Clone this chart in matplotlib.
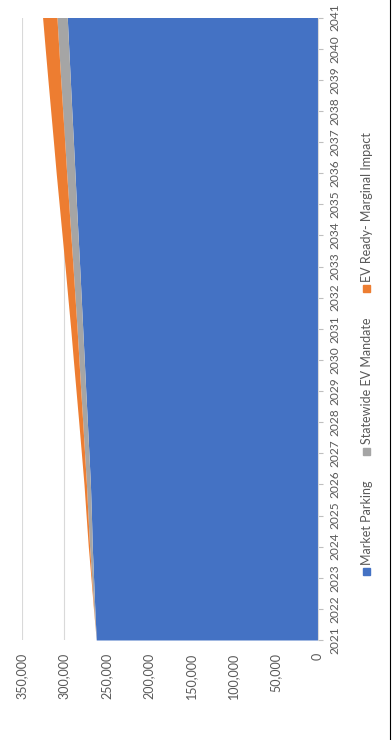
import numpy as np
import matplotlib
matplotlib.use("Agg")
import matplotlib.pyplot as plt
from matplotlib.patches import Rectangle
from matplotlib.lines import Line2D
from matplotlib.ticker import FuncFormatter

# --- data ---
years = list(range(2021, 2042))
market_parking = [261800, 263500, 265000, 266500, 267500, 268700, 270500, 272300,
                  274200, 276000, 277800, 279600, 281400, 283300, 285200, 287000,
                  288800, 290700, 292500, 294300, 296100]
statewide_ev_mandate = [0, 1200, 2200, 3200, 4100, 4700, 5100, 5500, 5900, 6300,
                        6700, 7300, 7900, 8500, 9100, 9800, 10300, 10800, 11300,
                        11800, 12200]
ev_ready_marginal = [0, 400, 900, 1500, 2200, 2900, 3800, 4700, 5600, 6600, 7500,
                     8500, 9400, 10400, 11400, 12400, 13300, 14200, 15200, 16100,
                     17000]
series_names = ["Market Parking", "Statewide EV Mandate", "EV Ready- Marginal Impact"]
colors = ["#4472C4", "#A5A5A5", "#ED7D31"]
value_ticks = list(range(0, 350001, 50000))

W, H = 392, 740
plt.rcParams["font.family"] = ["Lato", "DejaVu Sans"]

fig = plt.figure(figsize=(W / 100, H / 100), dpi=100)
ax = fig.add_axes([21.7 / W, 100 / H, (317.5 - 21.7) / W, (640 - 17.5) / H])

# chart is turned on its side: years run up, values run right-to-left
base = np.zeros(len(years))
for vals, color in zip([market_parking, statewide_ev_mandate, ev_ready_marginal], colors):
    top = base + np.array(vals)
    ax.fill_betweenx(years, base, top, color=color, lw=0, zorder=2)
    base = top

ax.set_xlim(350000, 0)
ax.set_ylim(2021, 2041)

ax.set_xticks(value_ticks)
ax.xaxis.set_major_formatter(FuncFormatter(lambda v, p: f"{int(v):,}"))
ax.tick_params(axis="x", length=0, pad=9, labelsize=9, labelcolor="#595959",
               labelrotation=90)
ax.grid(axis="x", color="#D9D9D9", lw=0.8)
ax.set_axisbelow(True)

ax.yaxis.tick_right()
ax.set_yticks(years)
ax.set_yticklabels([str(y) for y in years], rotation=90, va="center", ha="left")
ax.tick_params(axis="y", length=3.6, width=0.8, color="#BFBFBF", pad=5,
               labelsize=8.6, labelcolor="#595959")

for s in ["top", "bottom", "left"]:
    ax.spines[s].set_visible(False)
ax.spines["right"].set_color("#D9D9D9")
ax.spines["right"].set_linewidth(0.8)

# legend, stacked bottom-to-top like the rotated original
renderer = fig.canvas.get_renderer()
y = 575
for name, color in zip(series_names, colors):
    fig.patches.append(Rectangle((363 / W, 1 - y / H), 7 / W, 7 / H,
                                 transform=fig.transFigure, color=color))
    t = fig.text(367 / W, 1 - (y - 10) / H, name, rotation=90, va="bottom",
                 ha="center", fontsize=9, color="#595959")
    h = t.get_window_extent(renderer).height
    y = y - 10 - h - 26

# frame edge on the right
fig.lines.append(Line2D([390 / W, 390 / W], [0, 1], transform=fig.transFigure,
                        color="black", lw=0.8))

fig.savefig("out.png", dpi=100)
